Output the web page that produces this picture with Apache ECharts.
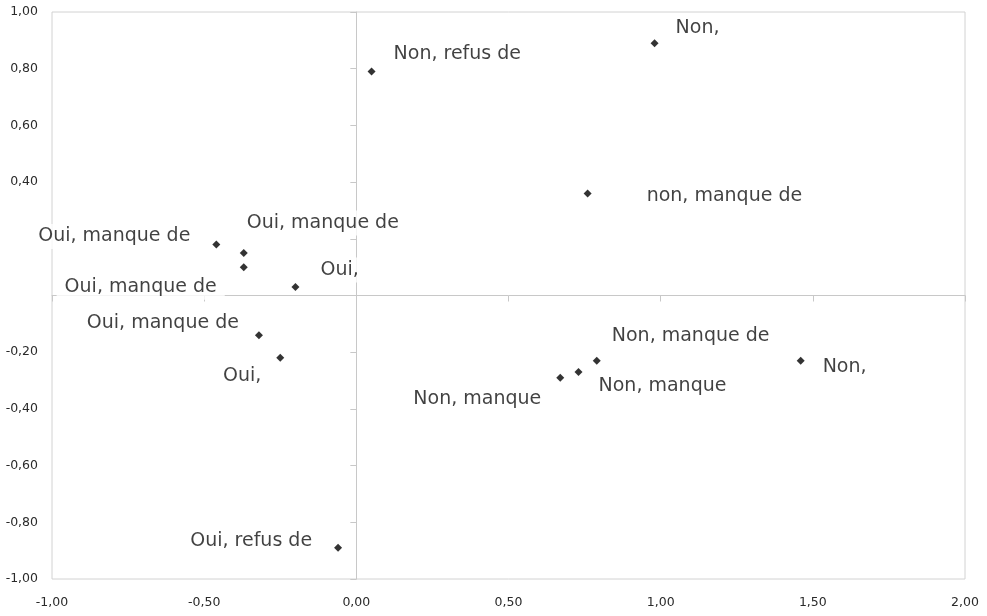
<!DOCTYPE html>
<html>
<head>
<meta charset="utf-8">
<script src="https://cdn.jsdelivr.net/npm/echarts@6/dist/echarts.min.js"></script>
<style>
  html, body { margin: 0; padding: 0; background: #fff; }
  #chart { width: 987px; height: 616px; }
</style>
</head>
<body>
<div id="chart"></div>
<script>
  // valeurs (axe 1 / axe 2)
  const pointNames = [
    'Non, refus de', 'Non,', 'non, manque de',
    'Oui, manque de', 'Oui, manque de', 'Oui, manque de', 'Oui,',
    'Oui, manque de', 'Oui,', 'Oui, refus de',
    'Non, manque de', 'Non, manque', 'Non, manque', 'Non,'
  ]
  const xValues = [0.05, 0.98, 0.76, -0.46, -0.37, -0.37, -0.20, -0.32, -0.25, -0.06, 0.79, 0.73, 0.67, 1.46]
  const yValues = [0.79, 0.89, 0.36, 0.18, 0.15, 0.10, 0.03, -0.14, -0.22, -0.89, -0.23, -0.27, -0.29, -0.23]
  // graduations masquées sur l'axe vertical
  const hiddenYTicks = [0.2, 0]

  // placement des étiquettes : côté, décalage x du texte, décalage y
  const labelLayout = [
    ['left', 22, -17], ['left', 21, -15], ['left', 59, 3],
    ['right', -26, -8], ['left', 3, -30], ['right', -27, 20], ['left', 25, -17],
    ['right', -20, -12], ['right', -19, 18], ['right', -26, -7],
    ['left', 15, -25], ['left', 20, 14], ['right', -19, 21], ['left', 22, 6]
  ]

  const padX = 8
  const fmt = (v) => v.toFixed(2).replace('.', ',')
  const lineColor = '#c8c8c8'

  const seriesData = xValues.map((x, i) => {
    const [side, dx, dy] = labelLayout[i]
    return {
      value: [x, yValues[i]],
      name: pointNames[i],
      label: {
        align: side,
        offset: [side === 'left' ? dx - padX : dx + padX, dy]
      }
    }
  })

  const mChart = echarts.init(document.getElementById('chart'))
  const option = {
    animation: false,
    grid: {
      left: 52,
      right: 22,
      top: 12,
      bottom: 37,
      show: true,
      borderColor: '#d2d2d2',
      borderWidth: 1,
      containLabel: false,
      outerBoundsMode: 'none'
    },
    xAxis: [{
      type: 'value',
      min: -1,
      max: 2,
      interval: 0.5,
      position: 'bottom',
      axisLine: { show: false },
      axisTick: { show: false },
      splitLine: { show: false },
      axisLabel: {
        margin: 17,
        color: '#2a2a2a',
        fontFamily: 'DejaVu Sans',
        fontSize: 12.5,
        formatter: fmt
      }
    }, {
      type: 'value',
      min: -1,
      max: 2,
      interval: 0.5,
      position: 'bottom',
      axisLine: { onZero: true, lineStyle: { color: lineColor, width: 1 } },
      axisTick: { show: true, length: 6, lineStyle: { color: lineColor } },
      axisLabel: { show: false },
      splitLine: { show: false }
    }],
    yAxis: [{
      type: 'value',
      min: -1,
      max: 1,
      interval: 0.2,
      position: 'left',
      axisLine: { show: false },
      axisTick: { show: false },
      splitLine: { show: false },
      axisLabel: {
        margin: 14,
        color: '#2a2a2a',
        fontFamily: 'DejaVu Sans',
        fontSize: 12.5,
        formatter: (v) => hiddenYTicks.some((h) => Math.abs(h - v) < 1e-9) ? '' : fmt(v)
      }
    }, {
      type: 'value',
      min: -1,
      max: 1,
      interval: 0.2,
      position: 'left',
      axisLine: { onZero: true, lineStyle: { color: lineColor, width: 1 } },
      axisTick: { show: true, length: 6, lineStyle: { color: lineColor } },
      axisLabel: { show: false },
      splitLine: { show: false }
    }],
    series: [{
      type: 'scatter',
      xAxisIndex: 0,
      yAxisIndex: 0,
      symbol: 'diamond',
      symbolSize: 8,
      itemStyle: { color: '#000' },
      label: {
        show: true,
        position: 'inside',
        verticalAlign: 'middle',
        formatter: '{b}',
        color: '#111',
        fontFamily: 'DejaVu Sans',
        fontSize: 19,
        backgroundColor: '#fff',
        padding: [3, padX]
      },
      data: seriesData
    }]
  }
  mChart.setOption(option)
  window.addEventListener('resize', function() {
    mChart.resize()
  })
</script>
</body>
</html>
